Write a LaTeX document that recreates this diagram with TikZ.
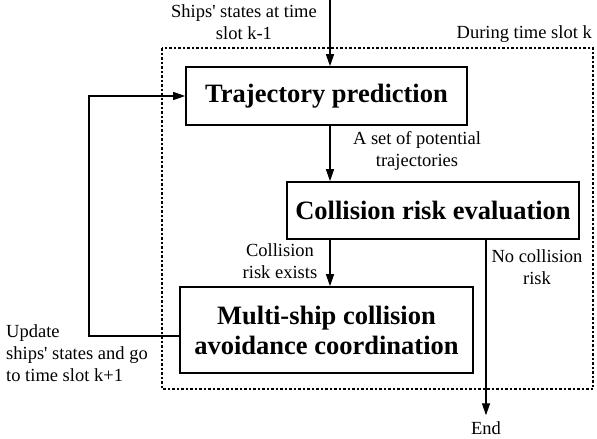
\documentclass[tikz,border=0pt]{standalone}
\usepackage{fontspec}
\setmainfont{Liberation Serif}
% same face without the TeX quote mapping, for a straight apostrophe
\newfontfamily\plainserif{Liberation Serif}
\usetikzlibrary{arrows.meta}
\newcommand{\apos}{{\plainserif'}}
\begin{document}
\begin{tikzpicture}[x=1pt,y=-1pt,
  box/.style={draw, line width=1.6pt, inner sep=0pt, align=center,
    font=\bfseries\fontsize{26.5}{30}\selectfont},
  lbl/.style={inner sep=0pt, align=center, font=\fontsize{18.5}{22}\selectfont},
  flow/.style={line width=1.3pt, -{Triangle[length=12pt,width=8pt]}}]
\useasboundingbox (0,0) rectangle (597,439);
% time slot frame
\draw[line width=1.1pt, dash pattern=on 2.5pt off 2pt] (162,48) rectangle (593,389);
% process blocks
\node[box, minimum width=281pt, minimum height=58pt] (tp) at (326.5,96) {Trajectory prediction};
\node[box, minimum width=292pt, minimum height=57pt] (cre) at (433,210.5) {Collision risk evaluation};
\node[box, minimum width=293pt, minimum height=86pt] (mc) at (326.5,330) {Multi-ship collision\\avoidance coordination};
% labels
\node[lbl] (inlbl) at (244,22) {Ships\apos{} states at time\\slot k-1};
\node[lbl, anchor=east] (slot) at (592,34) {During time slot k};
\node[lbl] (trajlbl) at (417,151) {A set of potential\\trajectories};
\node[lbl] (risklbl) at (280,261) {Collision\\risk exists};
\node[lbl] (norisk) at (537,267) {No collision\\risk};
\node[lbl, align=left, anchor=west] (upd) at (6,353) {Update\\ships\apos{} states and go\\to time slot k+1};
\node[lbl] (end) at (486,428) {End};
% connectors
\coordinate (in) at (330,0);
\coordinate (fb) at (89,336);
\draw[flow] (in) -- (in |- tp.north);
\draw[flow] (in |- tp.south) -- (in |- cre.north);
\draw[flow] (in |- cre.south) -- (in |- mc.north);
\draw[flow, shorten >=6pt] (end |- cre.south) -- (end.north);
\draw[flow] (mc.west |- fb) -- (fb) |- (tp.west);
\end{tikzpicture}
\end{document}
